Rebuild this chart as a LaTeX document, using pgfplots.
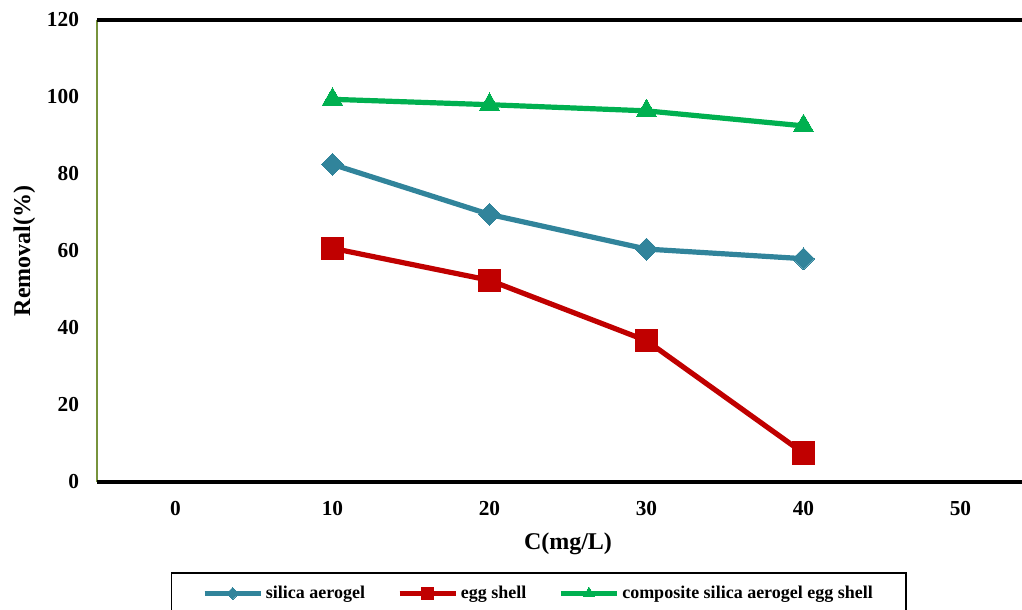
\documentclass[border=0pt]{standalone}
\usepackage{pgfplots}
\pgfplotsset{compat=1.18}
\usepackage{fontspec}
\setmainfont{Liberation Serif}
\definecolor{cblue}{RGB}{49,132,155}
\definecolor{cred}{RGB}{192,0,0}
\definecolor{cgreen}{RGB}{0,176,80}
\definecolor{colive}{RGB}{119,147,60}
\begin{document}
\begin{tikzpicture}
\begin{axis}[
  name=ax,
  scale only axis,
  width=706.5pt, height=346.5pt,
  xmin=-5, xmax=55, ymin=0, ymax=120,
  xtick={0,10,20,30,40,50},
  ytick={0,20,40,60,80,100,120},
  major tick length=0pt,
  axis line style={draw=none},
  /pgf/number format/assume math mode=true,
  tick label style={font=\fontsize{16}{19}\selectfont\bfseries},
  xticklabel style={yshift=-11pt},
  yticklabel style={xshift=-10pt},
  xlabel={C(mg/L)}, ylabel={Removal(\%)},
  label style={font=\fontsize{18}{21}\selectfont\bfseries},
  xlabel style={yshift=-6pt},
  ylabel style={yshift=2pt},
  clip=false,
  legend columns=3,
  legend style={at={(axis description cs:0.469,-0.195)}, anchor=north, draw=black, line width=1.2pt,
    font=\fontsize{13.5}{16}\selectfont\bfseries, inner xsep=23pt, inner ysep=8pt,
    /tikz/every even column/.append style={column sep=22pt}},
  legend image code/.code={\draw[#1, mark repeat=2, mark phase=2, /tikz/every mark/.append style={scale=0.55}] plot coordinates {(0pt,0pt) (21pt,0pt) (42pt,0pt)};},
]
\draw[colive, line width=1.2pt] (rel axis cs:0,0) -- (rel axis cs:0,1);
\draw[black, line width=2.4pt] (rel axis cs:0,0) -- (rel axis cs:1,0);
\draw[black, line width=2.4pt] (rel axis cs:0,1) -- (rel axis cs:1,1);
\addplot[cblue, line width=3.9pt, mark=square*, mark size=5.8pt, mark options={rotate=45, line width=0pt}]
  coordinates {(10,82.5) (20,69.5) (30,60.5) (40,58.0)};
\addlegendentry{silica aerogel}
\addplot[cred, line width=3.9pt, mark=square*, mark size=8.4pt, mark options={line width=0pt}]
  coordinates {(10,60.7) (20,52.4) (30,36.7) (40,7.5)};
\addlegendentry{egg shell}
\addplot[cgreen, line width=3.9pt, mark=triangle*, mark size=8.8pt, mark options={line width=0pt}]
  coordinates {(10,99.4) (20,98.0) (30,96.4) (40,92.5)};
\addlegendentry{composite silica aerogel egg shell}
\end{axis}
\pgfresetboundingbox
\path (ax.south west) ++(-72.75pt,-96pt) rectangle ++(766.5pt,457.5pt);
\end{tikzpicture}
\end{document}
